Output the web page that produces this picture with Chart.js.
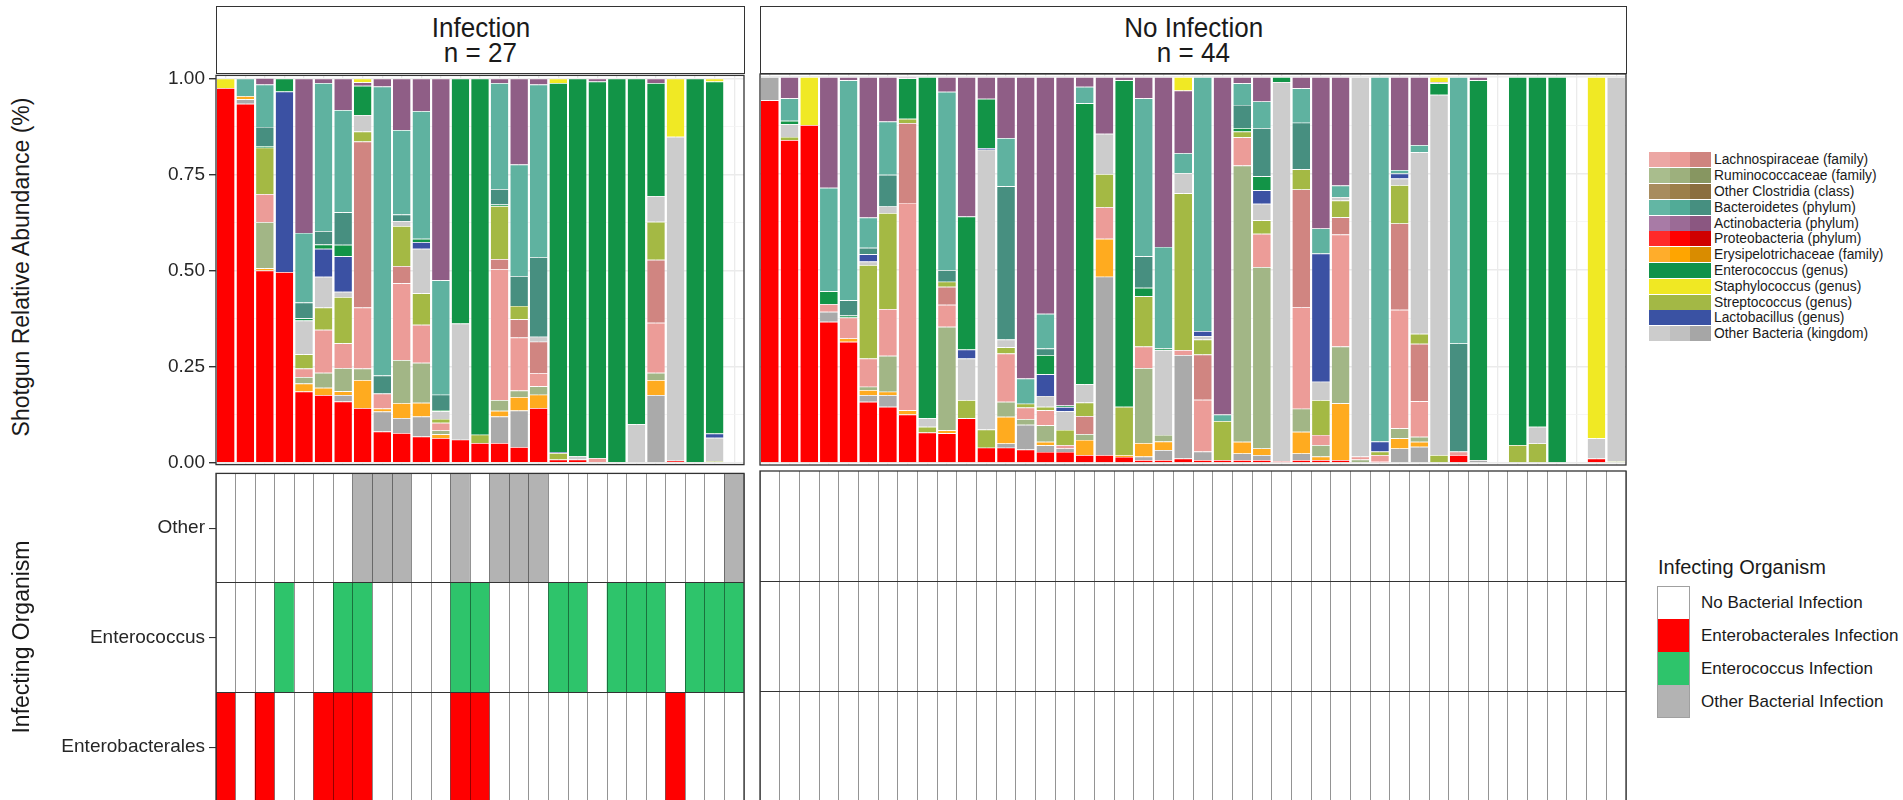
<!DOCTYPE html>
<html>
<head>
<meta charset="utf-8">
<script src="https://cdn.jsdelivr.net/npm/chart.js@4.4.1/dist/chart.umd.min.js"></script>
<style>
  html, body { margin: 0; padding: 0; background: #fff; }
  body { width: 1903px; height: 800px; overflow: hidden; position: relative;
         font-family: "Liberation Sans", Arial, Helvetica, sans-serif; color: #1a1a1a; }
  canvas { position: absolute; }
  .strip { position: absolute; top: 6px; height: 68px; box-sizing: border-box; border: 1.3px solid #333;
           display: flex; flex-direction: column; justify-content: center; align-items: center;
           font-size: 28px; line-height: 25px; background: #fff; }
  .strip div { transform: scaleX(0.93); }
  .ytitle { position: absolute; white-space: nowrap; font-size: 23px; transform: translate(-50%, -50%) rotate(-90deg); }
  #taxaLegend { position: absolute; left: 1649px; top: 152px; }
  .trow { height: 15.8px; display: flex; align-items: center; }
  .tsw { width: 62px; height: 15px; display: flex; }
  .tsw span { flex: 1; }
  .tlab { margin-left: 3px; font-size: 13.8px; white-space: nowrap; }
  #infLegend { position: absolute; left: 1657px; top: 556px; }
  #infLegend .ttl { font-size: 20px; line-height: 22px; margin-left: 1px; margin-bottom: 8px; white-space: nowrap; }
  .irow { height: 33px; display: flex; align-items: center; }
  .isw { width: 33px; height: 33px; box-sizing: border-box; border-left: 1px solid #a0a0a0; border-right: 1px solid #a0a0a0; }
  .ilab { margin-left: 11px; font-size: 17px; white-space: nowrap; }
</style>
</head>
<body>
<div class="strip" style="left:216px;width:529px;"><div>Infection</div><div>n = 27</div></div>
<div class="strip" style="left:760px;width:867px;"><div>No Infection</div><div>n = 44</div></div>

<canvas id="topInf" width="708" height="420" style="left:40px;top:60px;"></canvas>
<canvas id="topNon" width="874" height="420" style="left:756px;top:60px;"></canvas>
<canvas id="heatInf" width="708" height="360" style="left:40px;top:458px;"></canvas>
<canvas id="heatNon" width="874" height="360" style="left:756px;top:458px;"></canvas>

<div class="ytitle" style="left:21px;top:267px;">Shotgun Relative Abundance (%)</div>
<div class="ytitle" style="left:21px;top:637px;">Infecting Organism</div>

<div id="taxaLegend"></div>
<div id="infLegend"><div class="ttl">Infecting Organism</div></div>

<script>
// --- relative abundance per taxon, Infection samples (27) then No Infection samples (44) ---
const protInf  = [.975,.934,.5,.496,.185,.176,.159,.142,.081,.077, .068,.064,.06,.051,.051,.041,.142,.008,.008,0, 0,0,0,.005,0,0,0];
const protNon  = [.94,.837,.876,.366,.314,.159,.146,.126,.079,.077, .116,.04,.04,.035,.029,.029,.021,.021,.016,.008, .008,.012,.008,.008,.008,.008,.005,.008,.008,.008, 0,.005,0,0,0,.021,0,0,0,0, 0,0,.012,0];
const othDInf  = [0,.012,0,0,0,0,.017,0,.052,.039, .052,0,0,0,.069,.095,0,0,0,0, 0,0,.176,0,0,0,0];
const othDNon  = [.06,0,0,.026,0,.017,.03,0,0,0, 0,0,.011,.064,.017,.009,0,.462,0,.009, .026,.268,.022,0,.017,.013,0,.017,0,0, 0,0,.038,.042,0,0,.008,0,0,0, 0,0,0,0];
const erysInf  = [0,.008,.006,0,.021,.019,.01,.073,.008,.039, .036,.01,0,0,.015,.035,.035,0,0,0, 0,0,.039,0,0,0,0];
const erysNon  = [0,0,0,0,.009,.013,.009,.011,0,.008, 0,0,.069,0,.009,0,.039,.098,.005,.035, .022,0,0,0,.03,.017,0,.056,.009,.147, 0,0,.026,.013,0,0,0,0,0,0, 0,0,0,0];
const rumInf   = [0,0,.12,0,.017,.039,.06,.03,0,.112, .104,.01,0,0,.028,.017,.022,0,0,0, 0,0,.019,0,0,0,0];
const rumNon   = [0,0,0,0,0,.009,.093,0,0,.268, 0,0,.039,.015,.043,0,.015,0,0,.194, .017,0,0,0,.716,.47,0,.06,.03,.147, .009,0,.026,.013,0,0,0,0,0,0, 0,0,0,0];
const lachLInf = [0,0,.073,0,.022,.112,.065,.159,.039,.2, .099,.02,0,0,.341,.138,.034,0,0,.012, 0,0,.13,0,0,0,0];
const lachLNon = [0,0,0,.02,.054,.073,.121,.537,0,.057, 0,0,.125,.03,.039,.009,0,.082,0,.056, 0,.013,.134,0,.073,.086,0,.263,.026,.29, .008,.016,.307,.092,0,.009,0,0,0,0, 0,0,0,0];
const lachDInf = [0,0,0,0,0,0,0,.432,0,.045, 0,0,0,0,.026,.047,.082,0,0,0, 0,0,.164,0,0,0,0];
const lachDNon = [0,0,0,0,0,0,0,.207,0,.047, 0,0,0,0,0,0,.047,0,0,0, 0,0,.117,0,0,0,0,.305,0,.045, 0,0,.224,.149,0,0,0,0,0,0, 0,0,0,0];
const strepInf = [0,0,.121,0,.037,.058,.12,.026,0,.104, .082,.01,0,.022,.138,.035,0,.017,0,0, 0,0,.099,0,0,.004,0];
const strepNon = [0,.008,0,0,0,.242,.249,.011,.015,.013, .047,.047,.016,.01,.009,.039,.035,.086,.125,.13, 0,.406,.039,.101,.015,.035,0,.052,.09,.043, 0,.009,.099,.026,.021,0,0,0,.047,.051, 0,0,0,.005];
const othLInf  = [0,0,0,0,.088,.08,.014,.043,0,.013, .116,.02,.302,0,0,0,.013,0,.009,0, 0,.1,.067,.843,0,.061,0];
const othLNon  = [0,.033,0,0,0,.009,.017,0,.022,0, .108,.725,.02,0,.028,.048,.047,.104,0,0, .22,.052,.009,0,0,.043,.982,0,.048,.009, .983,0,.017,.47,.933,0,0,0,0,.043, 0,0,.052,.995];
const lactInf  = [0,0,0,.47,0,.073,.092,0,0,0, .017,0,0,0,0,0,0,.003,0,0, 0,0,0,0,0,.011,0];
const lactNon  = [0,0,0,0,0,.019,0,0,0,0, .023,.004,0,0,.056,.011,0,0,0,0, 0,0,.013,0,0,.035,0,0,.332,0, 0,.026,.013,0,0,0,0,0,0,0, 0,0,0,0];
const entInf   = [0,0,.004,.034,.006,.011,.03,.076,0,0, .009,.003,.638,.927,.004,0,0,.96,.983,.98, 1,.9,.294,0,1,.916,0];
const entNon   = [0,.009,0,.033,.005,0,0,.105,.884,0, .345,.128,0,0,.05,.004,.728,0,.846,.022, .004,0,0,0,.009,.036,.013,0,0,0, 0,0,0,0,.03,0,.984,0,.953,.906, 1,0,0,0];
const bactDInf = [0,0,.05,0,.041,.035,.085,0,.047,.017, 0,.04,0,0,.04,.078,.207,0,0,0, 0,0,0,0,0,0,0];
const bactDNon = [0,0,0,0,.04,.017,.082,0,0,.03, 0,0,.397,0,.017,0,0,0,0,.082, 0,0,0,0,.06,.125,0,.121,0,0, 0,0,0,0,0,.28,0,0,0,0, 0,0,0,0];
const bactLInf = [0,.046,.11,0,.181,.385,.266,0,.752,.22, .332,.298,0,0,.276,.29,.449,0,0,0, 0,0,0,0,0,0,0];
const bactLNon = [0,.058,0,.268,.57,.078,.138,0,0,.462, 0,0,.125,.065,.09,0,.043,0,0,.409, .263,.052,.658,.017,.056,.069,0,.089,.065,.03, 0,.944,.009,.019,0,.69,0,0,0,0, 0,0,0,0];
const actInf   = [0,0,.017,0,.402,.012,.082,.009,.021,.134, .085,.525,0,0,.012,.224,.016,0,0,.008, 0,0,.012,0,0,0,0];
const actNon   = [0,.055,0,.287,.008,.364,.115,.003,0,.038, .361,.056,.158,.781,.613,.851,.025,.147,.008,.055, .44,.162,0,.874,.016,.063,0,.029,.392,.281, 0,0,.241,.176,.003,0,.008,0,0,0, 0,0,0,0];
const staphInf = [.025,0,0,0,0,0,0,.01,0,0, 0,0,0,0,0,0,0,.012,0,0, 0,0,0,.152,0,.008,0];
const staphNon = [0,0,.124,0,0,0,0,0,0,0, 0,0,0,0,0,0,0,0,0,0, 0,.035,0,0,0,0,0,0,0,0, 0,0,0,0,.013,0,0,0,0,0, 0,0,.936,0];

// --- infecting organism per sample (1 = infected) ---
const otherInf   = [0,0,0,0,0,0,0,1,1,1, 0,0,1,0,1,1,1,0,0,0, 0,0,0,0,0,0,1];
const enteroInf  = [0,0,0,1,0,0,1,1,0,0, 0,0,1,1,0,0,0,1,1,0, 1,1,1,0,1,1,1];
const enterobInf = [1,0,1,0,0,1,1,1,0,0, 0,0,1,1,0,0,0,0,0,0, 0,0,0,1,0,0,0];
const noneNon    = [0,0,0,0,0,0,0,0,0,0, 0,0,0,0,0,0,0,0,0,0, 0,0,0,0,0,0,0,0,0,0, 0,0,0,0,0,0,0,0,0,0, 0,0,0,0];

const abundTicks = [0, 0.25, 0.5, 0.75, 1];
const abundMinor = [0.125, 0.375, 0.625, 0.875];
const infRowNames = ["Enterobacterales", "Enterococcus", "Other"];

const infLabels = protInf.map((_, i) => "I" + (i + 1));
const nonLabels = protNon.map((_, i) => "N" + (i + 1));

// stacking order, bottom to top
const stack = [
  { name: "Proteobacteria",      color: "#ff0000", inf: protInf,  non: protNon },
  { name: "Other Bacteria",      color: "#aaaaaa", inf: othDInf,  non: othDNon },
  { name: "Erysipelotrichaceae", color: "#ffab1f", inf: erysInf,  non: erysNon },
  { name: "Ruminococcaceae",     color: "#a2b686", inf: rumInf,   non: rumNon },
  { name: "Lachnospiraceae",     color: "#ec9c98", inf: lachLInf, non: lachLNon },
  { name: "Lachnospiraceae 2",   color: "#d08581", inf: lachDInf, non: lachDNon },
  { name: "Streptococcus",       color: "#a4b944", inf: strepInf, non: strepNon },
  { name: "Other Bacteria 2",    color: "#cccccc", inf: othLInf,  non: othLNon },
  { name: "Lactobacillus",       color: "#3b51a3", inf: lactInf,  non: lactNon },
  { name: "Enterococcus",        color: "#129447", inf: entInf,   non: entNon },
  { name: "Bacteroidetes 2",     color: "#478f80", inf: bactDInf, non: bactDNon },
  { name: "Bacteroidetes",       color: "#5fb2a0", inf: bactLInf, non: bactLNon },
  { name: "Actinobacteria",      color: "#8f5e86", inf: actInf,   non: actNon },
  { name: "Staphylococcus",      color: "#f0e924", inf: staphInf, non: staphNon }
];

const infRows = [
  { name: "Enterobacterales", color: "#ff0000", inf: enterobInf, non: noneNon },
  { name: "Enterococcus",     color: "#2ec46b", inf: enteroInf,  non: noneNon },
  { name: "Other",            color: "#b3b3b3", inf: otherInf,   non: noneNon }
];

Chart.defaults.font.family = '"Liberation Sans", Arial, Helvetica, sans-serif';

// dark frame round each panel, like ggplot's panel.border
Chart.register({
  id: "panelBorder",
  afterDraw(chart) {
    const { ctx, chartArea: a } = chart;
    ctx.save();
    ctx.strokeStyle = "#333";
    ctx.lineWidth = 1.3;
    ctx.strokeRect(a.left, a.top, a.right - a.left, a.bottom - a.top);
    ctx.restore();
  }
});

function abundanceChart(id, labels, key, withAxis) {
  const isMajor = c => c.tick && abundTicks.includes(c.tick.value);
  return new Chart(document.getElementById(id), {
    type: "bar",
    data: {
      labels,
      datasets: stack.map(s => ({
        label: s.name,
        data: s[key],
        backgroundColor: s.color,
        borderColor: "rgba(255,255,255,0.8)",
        borderWidth: { top: 0.7, bottom: 0, left: 0, right: 0 },
        borderSkipped: false,
        categoryPercentage: 0.9,
        barPercentage: 1
      }))
    },
    options: {
      responsive: false,
      animation: false,
      events: [],
      layout: { padding: { top: 14, bottom: 15, left: withAxis ? 0 : 4, right: 4 } },
      plugins: { legend: { display: false }, tooltip: { enabled: false } },
      scales: {
        x: {
          stacked: true,
          ticks: { display: false },
          grid: { offset: false, color: "#ebebeb", lineWidth: 1.3, drawTicks: false },
          border: { display: false }
        },
        y: {
          stacked: true,
          min: -0.005,
          max: 1.008,
          afterBuildTicks: s => { s.ticks = abundTicks.concat(abundMinor).sort().map(v => ({ value: v })); },
          afterFit: s => { s.width = withAxis ? 176 : 0; },
          ticks: {
            display: withAxis,
            padding: 4,
            color: "#262626",
            font: { size: 19 },
            callback: v => abundTicks.includes(v) ? v.toFixed(2) : ""
          },
          grid: {
            color: c => isMajor(c) ? "#ebebeb" : "#f2f2f2",
            lineWidth: c => isMajor(c) ? 1.4 : 0.8,
            drawTicks: withAxis,
            tickLength: 7,
            tickColor: c => isMajor(c) ? "#333" : "rgba(0,0,0,0)"
          },
          border: { display: false }
        }
      }
    }
  });
}

function infectionChart(id, labels, key, withAxis) {
  return new Chart(document.getElementById(id), {
    type: "bar",
    data: {
      labels,
      datasets: infRows.map((row, r) => ({
        label: row.name,
        data: row[key].map(() => [r, r + 1]),
        backgroundColor: row[key].map(f => f ? row.color : "#ffffff"),
        borderWidth: 0,
        grouped: false,
        categoryPercentage: 1,
        barPercentage: 1
      }))
    },
    options: {
      responsive: false,
      animation: false,
      events: [],
      layout: { padding: { top: 13, bottom: 16, left: withAxis ? 0 : 4, right: 4 } },
      plugins: { legend: { display: false }, tooltip: { enabled: false } },
      scales: {
        x: {
          ticks: { display: false },
          grid: { z: 1, offset: true, color: "rgba(0,0,0,0.42)", lineWidth: 1, drawTicks: false },
          border: { display: false }
        },
        y: {
          min: 0,
          max: 3,
          afterBuildTicks: s => { s.ticks = [0, 0.5, 1, 1.5, 2, 2.5, 3].map(v => ({ value: v })); },
          afterFit: s => { s.width = withAxis ? 176 : 0; },
          ticks: {
            display: withAxis,
            padding: 4,
            color: "#262626",
            font: { size: 19 },
            callback: v => (v % 1 === 0.5) ? infRowNames[Math.floor(v)] : ""
          },
          grid: {
            z: 1,
            color: c => (c.tick && (c.tick.value === 1 || c.tick.value === 2)) ? "#333" : "rgba(0,0,0,0)",
            lineWidth: 1.1,
            drawTicks: withAxis,
            tickLength: 7,
            tickColor: c => (c.tick && c.tick.value % 1 === 0.5) ? "#333" : "rgba(0,0,0,0)"
          },
          border: { display: false }
        }
      }
    }
  });
}

abundanceChart("topInf", infLabels, "inf", true);
abundanceChart("topNon", nonLabels, "non", false);
infectionChart("heatInf", infLabels, "inf", true);
infectionChart("heatNon", nonLabels, "non", false);

// --- legends (HTML, ggplot style) ---
const taxaLegendNames = [
  "Lachnospiraceae (family)", "Ruminococcaceae (family)", "Other Clostridia (class)",
  "Bacteroidetes (phylum)", "Actinobacteria (phylum)", "Proteobacteria (phylum)",
  "Erysipelotrichaceae (family)", "Enterococcus (genus)", "Staphylococcus (genus)",
  "Streptococcus (genus)", "Lactobacillus (genus)", "Other Bacteria (kingdom)"
];
const taxaLegendShades = [
  ["#eca7a4", "#eb9b97", "#cf847f"],
  ["#a9bd8d", "#9db07d", "#879661"],
  ["#a88c5e", "#9c7f4a", "#8a6e3f"],
  ["#63b6a4", "#51ab97", "#468f80"],
  ["#a87ba6", "#9b6b96", "#8b5781"],
  ["#ff2a2a", "#ff0000", "#cf0000"],
  ["#ffad2b", "#ffa500", "#d98c00"],
  ["#11924a", "#11924a", "#11924a"],
  ["#f0e823", "#f0e823", "#f0e823"],
  ["#a3b845", "#a3b845", "#a3b845"],
  ["#3a52a3", "#3a52a3", "#3a52a3"],
  ["#cccccc", "#c0c0c0", "#a6a6a6"]
];
const tl = document.getElementById("taxaLegend");
taxaLegendNames.forEach((n, i) => {
  const row = document.createElement("div");
  row.className = "trow";
  row.innerHTML = '<div class="tsw">' + taxaLegendShades[i].map(c => '<span style="background:' + c + '"></span>').join("") +
    '</div><div class="tlab">' + n + "</div>";
  tl.appendChild(row);
});

const infLegendNames = ["No Bacterial Infection", "Enterobacterales Infection", "Enterococcus Infection", "Other Bacterial Infection"];
const infLegendColors = ["#ffffff", "#ff0000", "#2ec46b", "#b3b3b3"];
const il = document.getElementById("infLegend");
infLegendNames.forEach((n, i) => {
  const row = document.createElement("div");
  row.className = "irow";
  row.innerHTML = '<div class="isw" style="background:' + infLegendColors[i] + (i === 0 ? ';border-top:1px solid #a0a0a0' : '') +
    (i === 3 ? ';border-bottom:1px solid #a0a0a0' : '') + '"></div><div class="ilab">' + n + "</div>";
  il.appendChild(row);
});
</script>
</body>
</html>
